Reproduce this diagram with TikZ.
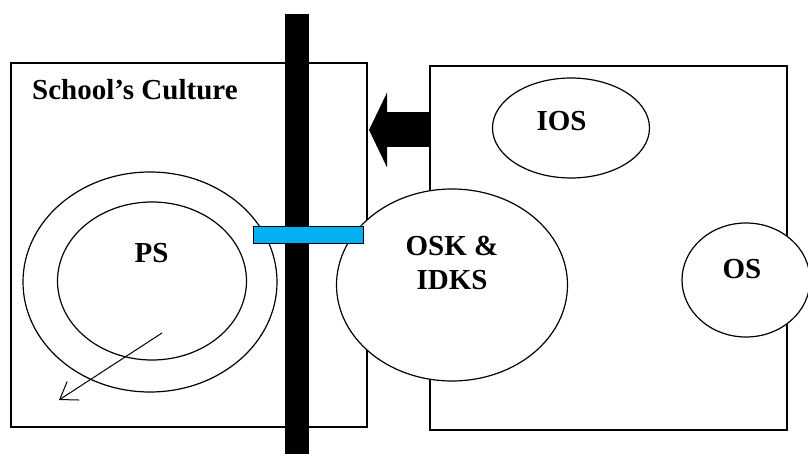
\documentclass[tikz,border=0pt]{standalone}
\usepackage{fontspec}
\setmainfont{Liberation Serif}
\usetikzlibrary{shapes.geometric,arrows.meta}
\definecolor{bridgeblue}{HTML}{00B0F0}
\tikzset{
  frame/.style={draw, line width=1.2pt, inner sep=0pt},
  oval/.style={ellipse, draw, fill=white, line width=1.2pt, inner sep=0pt},
  lbl/.style={font=\fontsize{29}{34}\selectfont\bfseries, inner sep=0pt, align=center},
}
\begin{document}
\begin{tikzpicture}[x=1pt,y=-1pt]
        \useasboundingbox (0,0) rectangle (808,454);

        % the school and the outside world
        \node[frame, minimum width=356pt, minimum height=364pt] (school) at (189,245) {};
        \node[frame, minimum width=357pt, minimum height=364pt] (outside) at (608.5,248) {};

        \node[oval, minimum width=254pt, minimum height=220pt] (psout) at (150,282) {};
        \node[oval, minimum width=189pt, minimum height=158pt] (ps) at (152,281) {};
        \node[oval, minimum width=157pt, minimum height=100pt] (ios) at (571,128) {};
        \node[oval, minimum width=231pt, minimum height=192pt] (osk) at (452,285) {};
        \node[oval, minimum width=128pt, minimum height=114pt] (os) at (746,280) {};

        % wall and bridge
        \node[fill=black, inner sep=0pt, minimum width=24pt, minimum height=440pt] (wall) at (297,234) {};
        \node[draw, fill=bridgeblue, line width=1pt, inner sep=0pt,
              minimum width=110pt, minimum height=17pt] (bridge) at (308,235.5) {};

        % pressure from outside
        \coordinate (push) at (outside.west |- 0,130);
        \coordinate (pushend) at (369,130);
        \draw[line width=35pt, -{Triangle[length=18pt,width=74pt]}] (push) -- (pushend);

        \coordinate (drift) at (162,333);
        \coordinate (driftend) at (59,400);
        \draw[line width=1pt, -{Straight Barb[length=16pt,width=22pt]}] (drift) -- (driftend);

        \node[lbl, anchor=base west] (title) at (32,99.5) {School’s Culture};
        \node[lbl, anchor=base] (pslbl) at (151.5,262) {PS};
        \node[lbl, anchor=base] (ioslbl) at (561.5,131) {IOS};
        \node[lbl, anchor=base] (oslbl) at (742,278) {OS};
        \node[lbl] (osklbl) at (452,263) {OSK \&\\IDKS};
\end{tikzpicture}
\end{document}
